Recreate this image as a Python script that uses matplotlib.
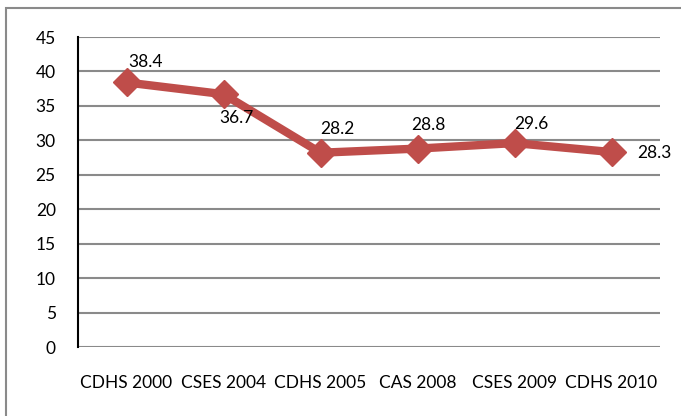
import matplotlib
matplotlib.use("Agg")
import matplotlib.pyplot as plt
from matplotlib.patches import Rectangle

categories = ["CDHS 2000", "CSES 2004", "CDHS 2005", "CAS 2008", "CSES 2009", "CDHS 2010"]
values = [38.4, 36.7, 28.2, 28.8, 29.6, 28.3]
yticks = [0, 5, 10, 15, 20, 25, 30, 35, 40, 45]

# label offsets in points (dx, dy)
label_offsets = [(14, 15), (9, -17), (12, 17), (8, 17), (12, 14), (31, -1)]

plt.rcParams["font.family"] = ["Lato", "DejaVu Sans"]

fig = plt.figure(figsize=(6.81, 4.16), dpi=100)
ax = fig.add_axes([78/681, 1-347/416, (660-78)/681, (347-37)/416])

x = list(range(len(categories)))
ax.plot(x, values, color="#BF4D4A", lw=6, marker="D", markersize=14,
        markerfacecolor="#BF4D4A", markeredgecolor="#BF4D4A", solid_joinstyle="round", zorder=3)

for xi, v, (dx, dy) in zip(x, values, label_offsets):
    ax.annotate(f"{v}", (xi, v), xytext=(dx, dy), textcoords="offset points",
                ha="center", va="center", fontsize=12.5, color="black", zorder=4)

ax.set_xlim(-0.5, len(categories) - 0.5)
ax.set_ylim(0, 45)
ax.set_yticks(yticks)
ax.set_yticklabels([str(t) for t in yticks], fontsize=12.5)
ax.set_xticks(x)
ax.set_xticklabels(categories, fontsize=12.5)
ax.tick_params(axis="y", length=0, pad=16)
ax.tick_params(axis="x", length=0, pad=20)
ax.yaxis.grid(True, color="#8a8a8a", lw=1.5)
ax.set_axisbelow(True)
for s in ["top", "right", "bottom"]:
    ax.spines[s].set_visible(False)
ax.spines["left"].set_color("black")
ax.spines["left"].set_linewidth(1.5)

border = Rectangle((6/681, -0.1), 1.2, 1.1 - 8/416, transform=fig.transFigure,
                   fill=False, edgecolor="#8a8a8a", lw=1.5, clip_on=False)
fig.patches.append(border)

fig.savefig("out.png", dpi=100)
